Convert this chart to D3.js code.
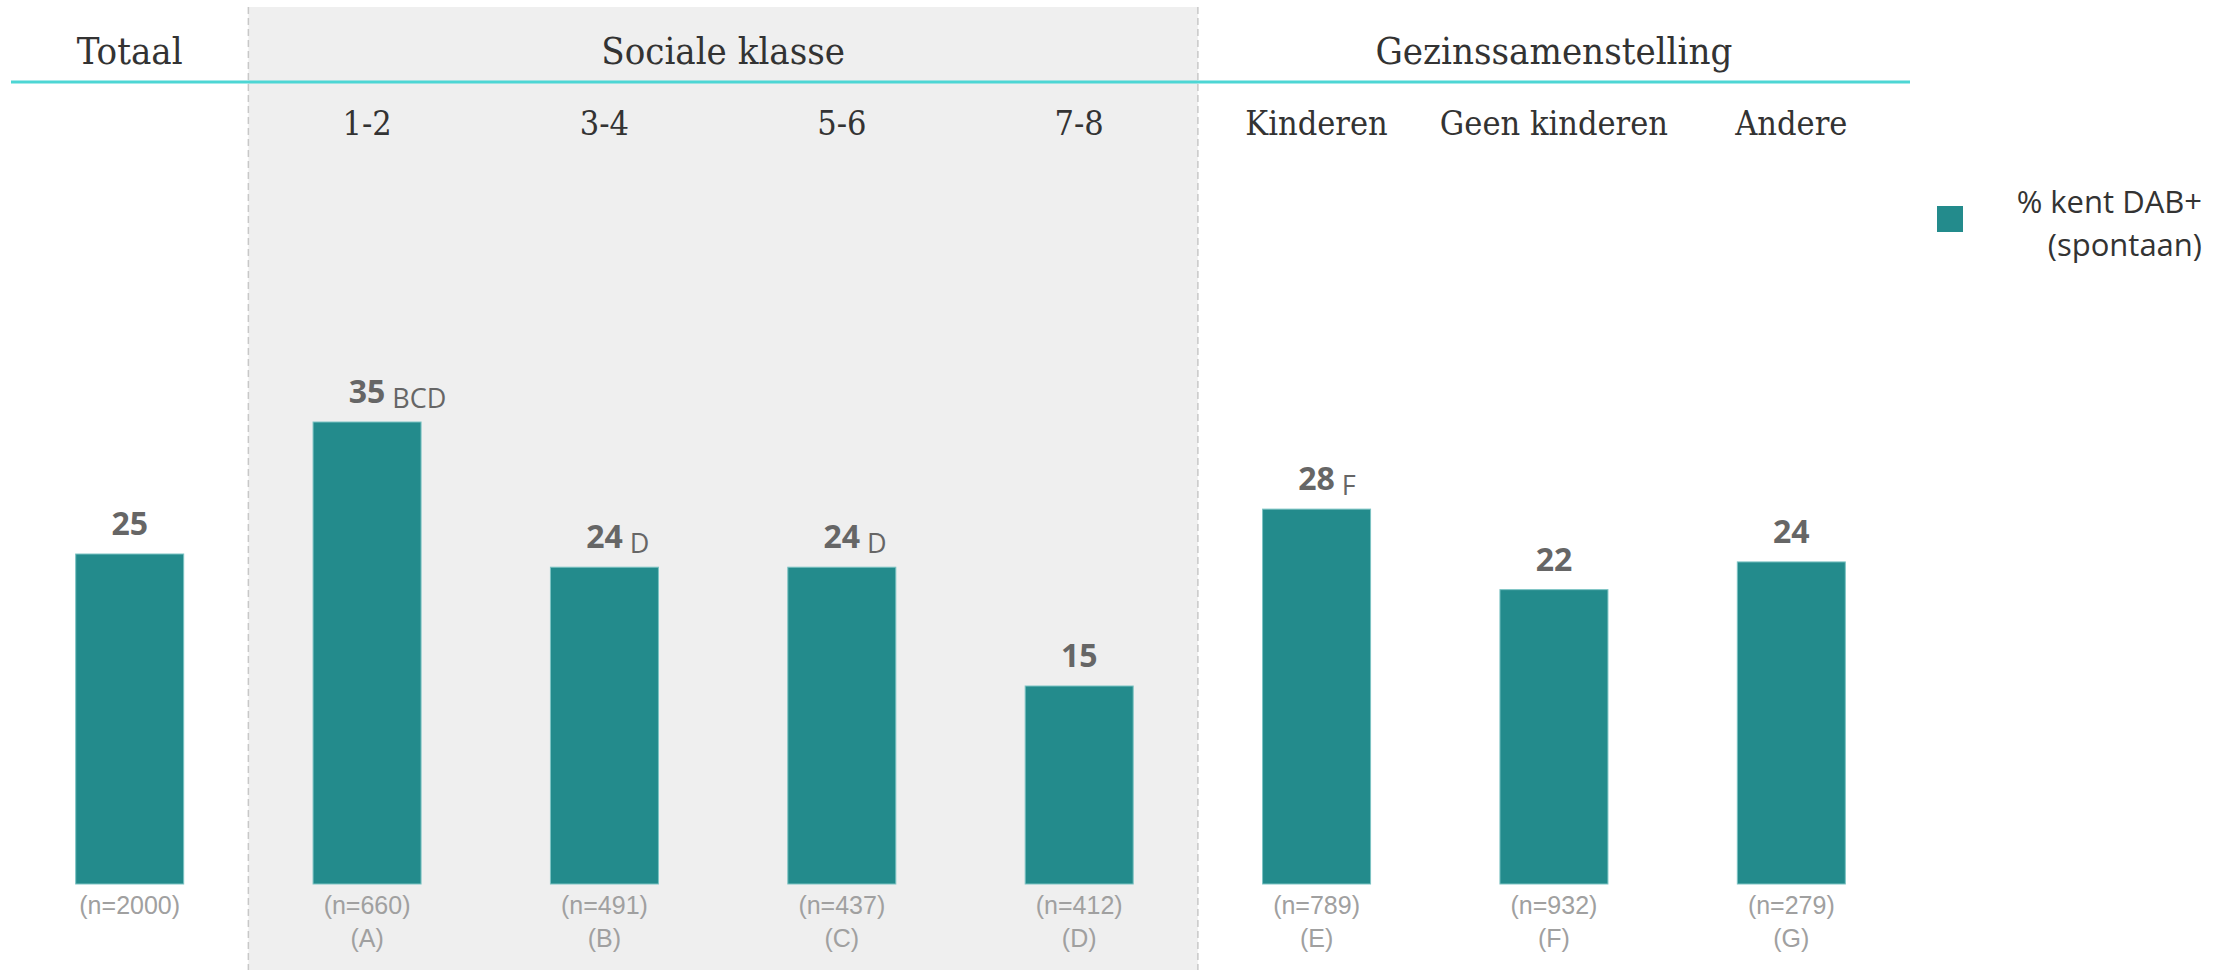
<!DOCTYPE html>
<html>
<head>
<meta charset="utf-8">
<script src="https://cdn.jsdelivr.net/npm/d3@7"></script>
<style>
  body { margin: 0; background: #fff; }
  svg { display: block; }
</style>
</head>
<body>
<svg id="chart" width="2229" height="970"></svg>
<script>
// data
const categories = ["Totaal", "1-2", "3-4", "5-6", "7-8", "Kinderen", "Geen kinderen", "Andere"];
const subLabels = ["", "1-2", "3-4", "5-6", "7-8", "Kinderen", "Geen kinderen", "Andere"];
const values = [25, 35, 24, 24, 15, 28.4, 22.3, 24.4];
const sigLetters = ["", "BCD", "D", "D", "", "F", "", ""];
const sampleSizes = ["(n=2000)", "(n=660)", "(n=491)", "(n=437)", "(n=412)", "(n=789)", "(n=932)", "(n=279)"];
const columnLetters = ["", "(A)", "(B)", "(C)", "(D)", "(E)", "(F)", "(G)"];
const groupNames = ["Totaal", "Sociale klasse", "Gezinssamenstelling"];
const groupFirst = ["Totaal", "1-2", "Kinderen"];
const groupLast = ["Totaal", "7-8", "Andere"];
const legendLines = ["% kent DAB+", "(spontaan)"];

const barColor = "#238b8c";
const serif = "'DejaVu Serif', serif";
const sans = "'Open Sans', sans-serif";

const svg = d3.select("#chart");

/** Scales */
let x = d3.scaleBand()
    .domain(categories)
    .range([11, 1910])
    .paddingInner(0.545)
    .paddingOuter(0.2725);

let y = d3.scaleLinear()
    .domain([0, 35])
    .range([884, 422]);

let step = x.step();
let leftEdge = d => x(d) - step * x.paddingInner() / 2;
let rightEdge = d => x(d) + x.bandwidth() + step * x.paddingInner() / 2;

// grey panel behind "Sociale klasse"
svg.append("rect")
    .attr("x", leftEdge("1-2"))
    .attr("y", 7)
    .attr("width", rightEdge("7-8") - leftEdge("1-2"))
    .attr("height", 963)
    .attr("fill", "#efefef");

// dashed separators
svg.selectAll("line.sep")
    .data([leftEdge("1-2"), rightEdge("7-8")])
    .join("line")
    .attr("class", "sep")
    .attr("x1", d => d).attr("x2", d => d)
    .attr("y1", 7).attr("y2", 970)
    .attr("stroke", "#c8c8c8")
    .attr("stroke-width", 1.5)
    .attr("stroke-dasharray", "7,4");

// header line
svg.append("line")
    .attr("x1", x.range()[0]).attr("x2", x.range()[1])
    .attr("y1", 82).attr("y2", 82)
    .attr("stroke", "#4dd6d4")
    .attr("stroke-width", 3);

// group titles
svg.selectAll("text.group")
    .data(groupNames)
    .join("text")
    .attr("class", "group")
    .attr("x", (d, i) => (x(groupFirst[i]) + x(groupLast[i]) + x.bandwidth()) / 2)
    .attr("y", 64)
    .attr("text-anchor", "middle")
    .style("font-family", serif)
    .style("font-stretch", "condensed")
    .style("font-size", "38px")
    .attr("fill", "#333")
    .text(d => d);

// sub labels
svg.selectAll("text.sub")
    .data(categories)
    .join("text")
    .attr("class", "sub")
    .attr("x", d => x(d) + x.bandwidth() / 2)
    .attr("y", 135)
    .attr("text-anchor", "middle")
    .style("font-family", serif)
    .style("font-stretch", "condensed")
    .style("font-size", "34px")
    .attr("fill", "#333")
    .text((d, i) => subLabels[i]);

// bars
svg.selectAll("rect.bar")
    .data(values)
    .join("rect")
    .attr("class", "bar")
    .attr("x", (d, i) => x(categories[i]))
    .attr("y", d => y(d))
    .attr("width", x.bandwidth())
    .attr("height", d => y(0) - y(d))
    .attr("fill", barColor)
    .attr("stroke", "#7cc3c3")
    .attr("stroke-width", 1);

// value labels
let valueText = svg.selectAll("text.val")
    .data(values)
    .join("text")
    .attr("class", "val")
    .attr("x", (d, i) => x(categories[i]) + x.bandwidth() / 2)
    .attr("y", d => y(d) - 19)
    .attr("text-anchor", "middle")
    .style("font-family", sans)
    .style("font-weight", "bold")
    .style("font-size", "32px")
    .attr("fill", "#666")
    .text(d => Math.round(d));

// significance letters next to the value
valueText.each(function (d, i) {
    if (!sigLetters[i]) return;
    let w = this.getComputedTextLength();
    svg.append("text")
        .attr("x", x(categories[i]) + x.bandwidth() / 2 + w / 2 + 7)
        .attr("y", y(d) - 14)
        .style("font-family", sans)
        .style("font-size", "27px")
        .attr("fill", "#666")
        .text(sigLetters[i]);
});

// sample sizes and column letters
svg.selectAll("text.n")
    .data(sampleSizes)
    .join("text")
    .attr("class", "n")
    .attr("x", (d, i) => x(categories[i]) + x.bandwidth() / 2)
    .attr("y", 914)
    .attr("text-anchor", "middle")
    .style("font-family", "'Liberation Sans', Arial, sans-serif")
    .style("font-size", "25px")
    .attr("fill", "#a0a0a0")
    .text(d => d);

svg.selectAll("text.letter")
    .data(columnLetters)
    .join("text")
    .attr("class", "letter")
    .attr("x", (d, i) => x(categories[i]) + x.bandwidth() / 2)
    .attr("y", 947)
    .attr("text-anchor", "middle")
    .style("font-family", "'Liberation Sans', Arial, sans-serif")
    .style("font-size", "25px")
    .attr("fill", "#a0a0a0")
    .text(d => d);

// legend
let legend = svg.append("g");
legend.append("rect")
    .attr("x", 1937)
    .attr("y", 206)
    .attr("width", 26)
    .attr("height", 26)
    .attr("fill", barColor);
legend.selectAll("text")
    .data(legendLines)
    .join("text")
    .attr("x", 2202)
    .attr("y", (d, i) => 213 + i * 43)
    .attr("text-anchor", "end")
    .style("font-family", sans)
    .style("font-size", "31px")
    .attr("fill", "#333")
    .text(d => d);
</script>
</body>
</html>
